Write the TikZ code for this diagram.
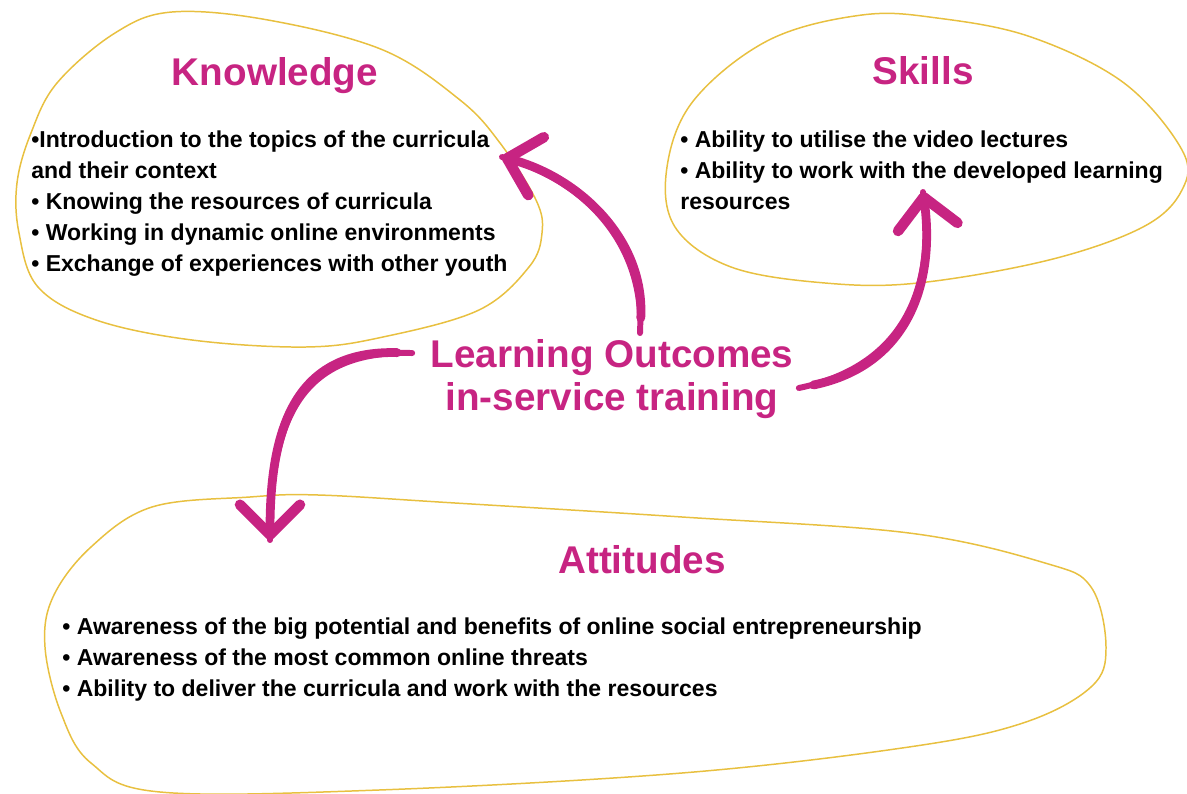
\documentclass[tikz,border=0pt]{standalone}
\usepackage{fontspec}
\setmainfont{Liberation Sans}
\usetikzlibrary{arrows.meta}

\definecolor{lomagenta}{RGB}{199,36,130}
\definecolor{blobgold}{RGB}{232,192,64}

\tikzset{
    blob/.style={draw=blobgold, line width=0.85pt},
    blobtitle/.style={text=lomagenta, font=\bfseries\fontsize{22}{26}\selectfont, anchor=base, inner sep=0pt},
    bodytext/.style={font=\bfseries\fontsize{13.1}{17.64}\selectfont, align=left, anchor=north west, inner sep=0pt},
    brushtail/.style={draw=lomagenta, line width=3.4pt, line cap=round},
    brush/.style={draw=lomagenta, line width=5pt, line cap=round, shorten <=0.3cm,
        -{Straight Barb[length=6mm, width=12mm, round, line width=6pt]}},
}

\begin{document}
\begin{tikzpicture}[x=0.02cm, y=-0.02cm]
        \useasboundingbox (0,0) rectangle (1187,794);
        % Knowledge
        \draw[blob] plot[smooth cycle, tension=0.6] coordinates {(172,12) (268,20) (383,50) (460,100) (500,143)
            (536,200) (542,233) (529,267) (479,310) (383,337) (306,347) (192,340) (96,320) (38,287)
            (19,233) (17,183) (31,133) (57,83) (115,33)};
        \node[blobtitle] (know) at (275,86) {Knowledge};
        \node[bodytext] (knowlist) at (31,130.5) {•Introduction to the topics of the curricula\\
            and their context\\
            • Knowing the resources of curricula\\
            • Working in dynamic online environments\\
            • Exchange of experiences with other youth};
        % Skills
        \draw[blob] plot[smooth cycle, tension=0.6] coordinates {(862,15) (937,18) (1031,37) (1124,83)
            (1182,150) (1182,190) (1143,227) (1049,260) (918,283) (825,283) (731,267) (675,227)
            (667,167) (694,100) (769,40)};
        \node[blobtitle] (skill) at (923,85) {Skills};
        \node[bodytext] (skilllist) at (680,130.5) {• Ability to utilise the video lectures\\
            • Ability to work with the developed learning\\
            resources};
        % Attitudes
        \draw[blob] plot[smooth cycle, tension=0.6] coordinates {(250,497) (318,495) (455,503) (682,517)
            (909,533) (1045,563) (1091,587) (1106,647) (1091,687) (1023,723) (909,747) (682,773)
            (379,790) (160,792) (91,763) (61,713) (45,647) (53,597) (91,547) (152,507)};
        \node[blobtitle] (att) at (642,573) {Attitudes};
        \node[bodytext] (attlist) at (62,617.5) {• Awareness of the big potential and benefits of online social entrepreneurship\\
            • Awareness of the most common online threats\\
            • Ability to deliver the curricula and work with the resources};
        % Learning outcomes
        \node[text=lomagenta, font=\bfseries\fontsize{22}{24.5}\selectfont, align=center, inner sep=0pt]
            (lo) at (612,379) {Learning Outcomes\\in-service training};
        \coordinate (knowtip) at (502,157);
        \coordinate (skilltip) at (923,192);
        \coordinate (atttip) at (270,540);
        % Arrows (thin tail, then thick shaft with head)
        \foreach \sty in {brushtail, brush} {
            \draw[\sty] ([shift={(28,-6)}]lo.north) .. controls (645,240) and (580,178) .. (knowtip);
            \draw[\sty] ([shift={(5,9)}]lo.east) .. controls (910,365) and (935,280) .. (skilltip);
            \draw[\sty] ([shift={(-18,14)}]lo.north west) .. controls (300,350) and (270,420) .. (atttip);
        }
    \end{tikzpicture}
\end{document}
